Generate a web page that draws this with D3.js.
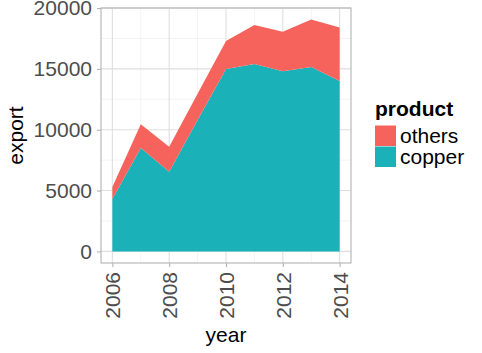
<!DOCTYPE html>
<html>
<head>
<meta charset="utf-8">
<script src="https://cdn.jsdelivr.net/npm/d3@7"></script>
<style>
  body { margin: 0; background: #fff; }
  text { font-family: "Liberation Sans", Arial, sans-serif; }
</style>
</head>
<body>
<script>
// export by product
var years = [2006, 2007, 2008, 2009, 2010, 2011, 2012, 2013, 2014];
var copper = [4300, 8500, 6550, 10800, 15000, 15400, 14800, 15150, 14000];
var others = [1000, 1950, 2050, 2150, 2300, 3200, 3250, 3900, 4400];
var products = ["copper", "others"];
var xTicks = [2006, 2008, 2010, 2012, 2014];
var yTicks = [0, 5000, 10000, 15000, 20000];

var width = 482, height = 353;
var pLeft = 101, pRight = 351, pTop = 8, pBottom = 263;

var rows = years.map(function (y, i) {
  return { year: y, copper: copper[i], others: others[i] };
});
var series = d3.stack().keys(products)(rows);
var maxY = d3.max(series[series.length - 1], function (d) { return d[1]; });

var x = d3.scaleLinear().domain([2005.6, 2014.4]).range([pLeft, pRight]);
var pad = maxY * 0.05;
var y = d3.scaleLinear().domain([-pad, maxY + pad]).range([pBottom, pTop]);
var color = d3.scaleOrdinal().domain(["others", "copper"]).range(["#F5635C", "#1AB2B8"]);

var svg = d3.select("body").append("svg")
    .attr("width", width)
    .attr("height", height);

// grid
var grid = svg.append("g");
d3.range(2007, 2014, 2).forEach(function (v) {
  grid.append("line").attr("x1", x(v)).attr("x2", x(v)).attr("y1", pTop).attr("y2", pBottom)
      .attr("stroke", "#EDEDED").attr("stroke-width", 0.6);
});
d3.range(2500, 20000, 5000).forEach(function (v) {
  grid.append("line").attr("x1", pLeft).attr("x2", pRight).attr("y1", y(v)).attr("y2", y(v))
      .attr("stroke", "#EDEDED").attr("stroke-width", 0.6);
});
xTicks.forEach(function (v) {
  grid.append("line").attr("x1", x(v)).attr("x2", x(v)).attr("y1", pTop).attr("y2", pBottom)
      .attr("stroke", "#DEDEDE").attr("stroke-width", 1.1);
});
yTicks.forEach(function (v) {
  grid.append("line").attr("x1", pLeft).attr("x2", pRight).attr("y1", y(v)).attr("y2", y(v))
      .attr("stroke", "#DEDEDE").attr("stroke-width", 1.1);
});

// stacked areas
var area = d3.area()
    .x(function (d) { return x(d.data.year); })
    .y0(function (d) { return y(d[0]); })
    .y1(function (d) { return y(d[1]); });

svg.append("g").selectAll("path")
    .data(series)
    .enter().append("path")
    .attr("d", area)
    .attr("fill", function (d) { return color(d.key); });

// panel border
svg.append("rect")
    .attr("x", pLeft).attr("y", pTop)
    .attr("width", pRight - pLeft).attr("height", pBottom - pTop)
    .attr("fill", "none").attr("stroke", "#B3B3B3").attr("stroke-width", 1.1);

// axes
var xAxis = svg.append("g")
    .attr("transform", "translate(0," + pBottom + ")")
    .call(d3.axisBottom(x).tickValues(xTicks).tickFormat(d3.format("d")).tickSizeOuter(0).tickSize(4).tickPadding(5));
xAxis.select(".domain").remove();
xAxis.selectAll("line").attr("stroke", "#B3B3B3").attr("stroke-width", 1.1);
xAxis.selectAll("text")
    .attr("transform", "rotate(-90)")
    .attr("x", -9).attr("y", 0).attr("dy", "0.36em")
    .attr("text-anchor", "end")
    .attr("font-size", 21)
    .attr("font-family", "Liberation Sans, Arial, sans-serif")
    .attr("fill", "#4D4D4D");

var yAxis = svg.append("g")
    .attr("transform", "translate(" + pLeft + ",0)")
    .call(d3.axisLeft(y).tickValues(yTicks).tickFormat(d3.format("d")).tickSizeOuter(0).tickSize(4).tickPadding(5));
yAxis.select(".domain").remove();
yAxis.selectAll("line").attr("stroke", "#B3B3B3").attr("stroke-width", 1.1);
yAxis.selectAll("text")
    .attr("font-size", 21)
    .attr("font-family", "Liberation Sans, Arial, sans-serif")
    .attr("fill", "#4D4D4D");

// axis titles
svg.append("text")
    .attr("x", (pLeft + pRight) / 2).attr("y", 342)
    .attr("text-anchor", "middle")
    .attr("font-size", 21)
    .text("year");

svg.append("text")
    .attr("transform", "translate(23," + (pTop + pBottom) / 2 + ")rotate(-90)")
    .attr("text-anchor", "middle")
    .attr("font-size", 21)
    .text("export");

// legend
var legend = svg.append("g").attr("transform", "translate(375,0)");
legend.append("text")
    .attr("x", 0).attr("y", 116)
    .attr("font-size", 21)
    .attr("font-weight", "bold")
    .text("product");

var items = legend.selectAll(".item")
    .data(["others", "copper"])
    .enter().append("g")
    .attr("class", "item")
    .attr("transform", function (d, i) { return "translate(0," + (125.5 + i * 21) + ")"; });
items.append("rect")
    .attr("width", 21).attr("height", 20.5)
    .attr("fill", function (d) { return color(d); });
items.append("text")
    .attr("x", 25).attr("y", 17.5)
    .attr("font-size", 21)
    .text(function (d) { return d; });
</script>
</body>
</html>
